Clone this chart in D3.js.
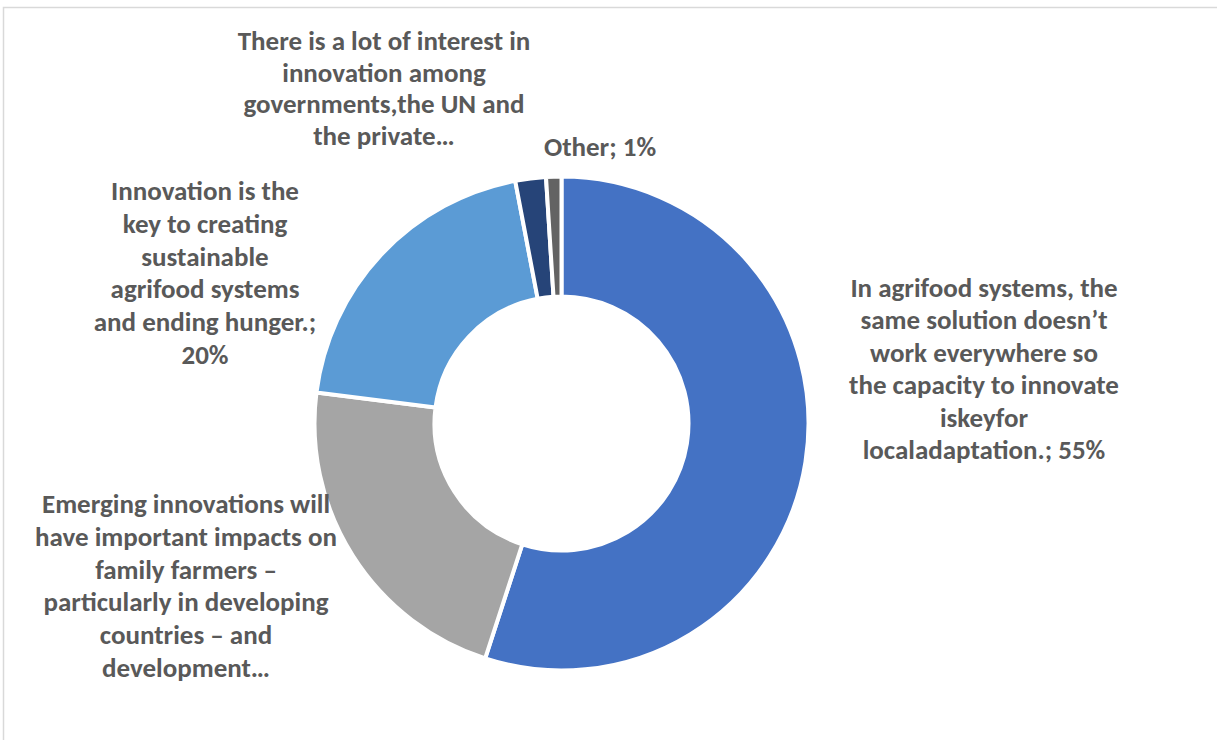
<!DOCTYPE html>
<html>
<head>
<meta charset="utf-8">
<script src="https://cdn.jsdelivr.net/npm/d3@7"></script>
<style>
  html, body { margin: 0; padding: 0; background: #fff; }
  svg { display: block; }
</style>
</head>
<body>
<svg id="chart" width="1217" height="740"></svg>
<script>
// ---- data ----
const categories = [
  "In agrifood systems, the same solution doesn’t work everywhere so the capacity to innovate iskeyfor localadaptation.",
  "Emerging innovations will have important impacts on family farmers – particularly in developing countries – and development…",
  "Innovation is the key to creating sustainable agrifood systems and ending hunger.",
  "There is a lot of interest in innovation among governments,the UN and the private…",
  "Other"
];
const values = [55, 22, 20, 2, 1];
const colors = ["#4472C4", "#A5A5A5", "#5B9BD5", "#264478", "#636363"];
const labelLines = [
  ["In agrifood systems, the", "same solution doesn’t", "work everywhere so", "the capacity to innovate", "iskeyfor", "localadaptation.; 55%"],
  ["Emerging innovations will", "have important impacts on", "family farmers –", "particularly in developing", "countries – and", "development…"],
  ["Innovation is the", "key to creating", "sustainable", "agrifood systems", "and ending hunger.;", "20%"],
  ["There is a lot of interest in", "innovation among", "governments,the UN and", "the private…"],
  ["Other; 1%"]
];

// ---- layout ----
const svg = d3.select("#chart");
const cx = 561.5, cy = 423.5, rOuter = 247, rInner = 127;

svg.append("rect")
  .attr("x", 3.5).attr("y", 7.5)
  .attr("width", 1300).attr("height", 800)
  .attr("fill", "#fff").attr("stroke", "#d9d9d9").attr("stroke-width", 1.5);

const pie = d3.pie().sort(null).value(d => d)(values);
const arc = d3.arc().innerRadius(rInner).outerRadius(rOuter);

const g = svg.append("g").attr("transform", `translate(${cx},${cy})`);
g.selectAll("path").data(pie).join("path")
  .attr("d", arc)
  .attr("fill", (d, i) => colors[i])
  .attr("stroke", "#fff")
  .attr("stroke-width", 4)
  .attr("stroke-linejoin", "miter");

// label placement (center x, first baseline y, line height)
const labelPos = [
  { x: 984, y: 297, lh: 32.4 },
  { x: 186, y: 513, lh: 32.8 },
  { x: 205, y: 200, lh: 32.8 },
  { x: 384, y: 50, lh: 31.7 },
  { x: 600, y: 156, lh: 31.7 }
];

const fontSize = 27;
const labels = svg.append("g").attr("class", "labels");
labelLines.forEach((lines, i) => {
  const p = labelPos[i];
  const t = labels.append("g").attr("transform", `translate(${p.x},${p.y})`)
    .append("text")
    .attr("text-anchor", "middle")
    .attr("font-family", "Carlito, 'Open Sans', sans-serif")
    .attr("font-weight", "bold")
    .attr("font-size", fontSize)
    .attr("fill", "#595959");
  lines.forEach((ln, j) => {
    t.append("tspan").attr("x", 0).attr("y", j * p.lh).text(ln);
  });
});
</script>
</body>
</html>
